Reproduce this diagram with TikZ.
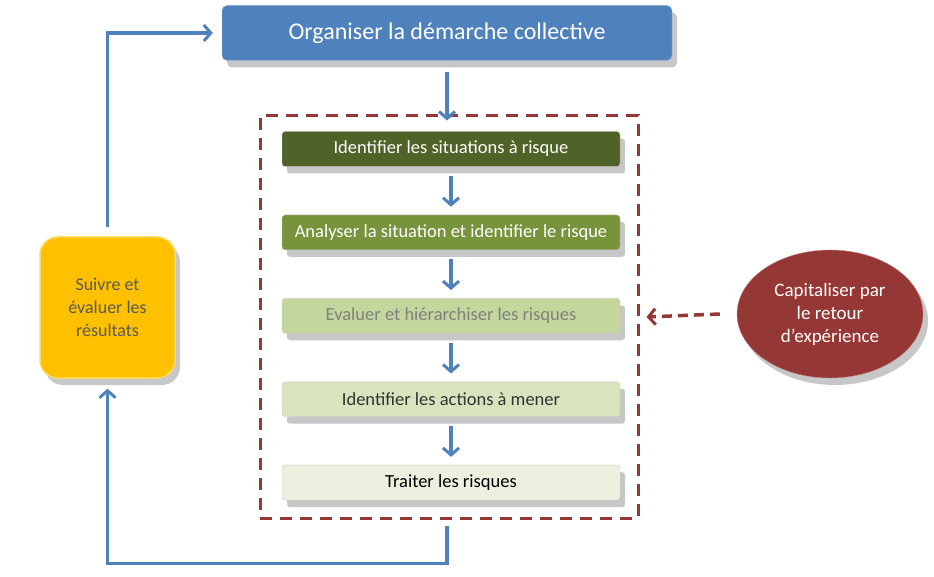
\documentclass[tikz,border=0pt]{standalone}
\usepackage{fontspec}
\setmainfont{Carlito}
\usetikzlibrary{arrows.meta,shadows,shapes.geometric,positioning}
\definecolor{bleu}{HTML}{4F81BD}
\definecolor{rouge}{HTML}{953735}
\definecolor{jaune}{HTML}{FFC000}
\definecolor{vert1}{HTML}{4F6228}
\definecolor{vert2}{HTML}{77933C}
\definecolor{vert3}{HTML}{C3D69B}
\definecolor{vert4}{HTML}{D7E4BD}
\definecolor{vert5}{HTML}{EBF1DE}
\begin{document}
\begin{tikzpicture}[x=1pt, y=-1pt,
    ombre/.style={drop shadow={shadow xshift=5pt, shadow yshift=-7pt, fill=black, opacity=0.22}},
    etape/.style={ombre, draw=white!60!gray, rounded corners=3pt, minimum width=338pt,
        minimum height=35pt, font=\fontsize{18.5}{22}\selectfont},
    fleche/.style={draw=bleu, line width=3.5pt, -{Straight Barb[length=7pt, width=16pt, line width=3pt]}},
    node distance=48pt]
    \useasboundingbox (0,0) rectangle (934,577);

    % bloc du haut
    \node[ombre, fill=bleu, draw=bleu!60!white, rounded corners=5pt, minimum width=450pt,
        minimum height=55pt, text=white, font=\fontsize{24}{28}\selectfont]
        (org) at (447,33) {Organiser la démarche collective};

    % cadre en pointillés
    \node[draw=rouge, line width=3pt, dash pattern=on 12pt off 8pt, minimum width=378pt,
        minimum height=402pt] (cadre) at (449,317) {};

    % les cinq étapes
    \node[etape, fill=vert1, text=white] (ident) at (451,149) {Identifier les situations à risque};
    \node[etape, fill=vert2, text=white, below=of ident] (analyse) {Analyser la situation et identifier le risque};
    \node[etape, fill=vert3, text=black!50, below=of analyse] (evaluer) {Evaluer et hiérarchiser les risques};
    \node[etape, fill=vert4, text=black!80, below=of evaluer] (actions) {Identifier les actions à mener};
    \node[etape, fill=vert5, text=black, below=of actions] (traiter) {Traiter les risques};

    \foreach \a/\b in {ident/analyse, analyse/evaluer, evaluer/actions, actions/traiter}
        \draw[fleche] ([yshift=-9pt]\a.south) -- ([yshift=8pt]\b.north);

    % suivi et retour d'expérience
    \node[ombre, fill=jaune, draw=jaune!60!white, line width=1.5pt, rounded corners=18pt,
        minimum width=135pt, minimum height=141pt, align=center, text=black!65,
        font=\fontsize{18}{23}\selectfont] (suivre) at (107.5,307.5)
        {Suivre et\\évaluer les\\résultats};
    \node[ombre, ellipse, fill=rouge, draw=rouge!60!white, minimum width=186pt,
        minimum height=128pt, align=center, text=white, font=\fontsize{19}{23}\selectfont]
        (capit) at (830,314) {Capitaliser par\\le retour\\d’expérience};

    % connecteurs
    \coordinate (haut) at (org.south |- cadre.north);
    \coordinate (bas) at (org.south |- cadre.south);
    \draw[fleche] ([yshift=-11pt]org.south) -- ([yshift=-6pt]haut);
    \draw[fleche] ([yshift=-6pt]bas) -- ++(0,38) -| ([yshift=-10pt]suivre.south);
    \draw[fleche] ([yshift=9pt]suivre.north) |- ([xshift=-9pt]org.west);
    \draw[draw=rouge, line width=3.5pt, dash pattern=on 10pt off 6pt,
        -{Straight Barb[length=7pt, width=16pt, line width=3pt]}]
        ([xshift=-17pt]capit.west) -- ([xshift=7pt]cadre.east);
\end{tikzpicture}
\end{document}
